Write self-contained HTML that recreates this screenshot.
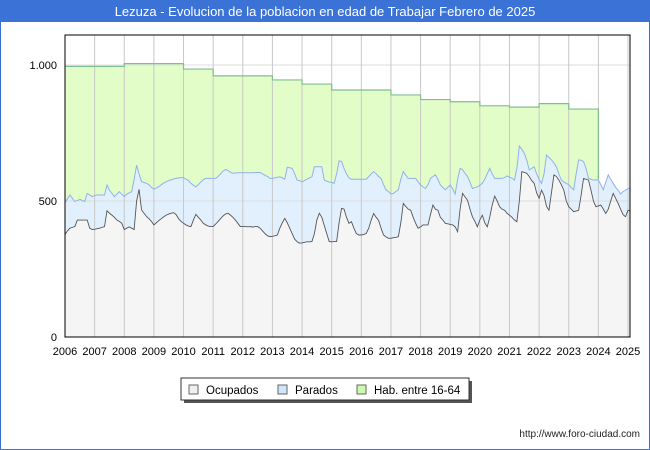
<!DOCTYPE html>
<html><head><meta charset="utf-8"><style>
body{margin:0;background:#fff;font-family:"Liberation Sans","DejaVu Sans",sans-serif}
#wrap{position:relative;width:650px;height:450px;box-sizing:border-box;border:1px solid #3a72d6;border-top:none}
</style></head><body>
<div id="wrap">
<svg id="c" width="650" height="450" style="position:absolute;left:-1px;top:0">
<rect x="0" y="0" width="650" height="22" fill="#3a72d6"/>
<text x="325" y="16" text-anchor="middle" fill="#fff" font-size="13" font-family="Liberation Sans, DejaVu Sans, sans-serif">Lezuza - Evolucion de la poblacion en edad de Trabajar Febrero de 2025</text>
<g id="plot"></g>
<g>
<rect x="184" y="381" width="288" height="22" fill="#555"/>
<rect x="181" y="378" width="288" height="22" fill="#fff" stroke="#333"/>
<g><rect x="189" y="385" width="9" height="9" fill="#f0f0f0" stroke="#666"/><text x="206" y="394" font-size="11.5">Ocupados</text></g>
<g><rect x="278" y="385" width="9" height="9" fill="#cfe6fb" stroke="#666"/><text x="295" y="394" font-size="11.5">Parados</text></g>
<g><rect x="357" y="385" width="9" height="9" fill="#ccfbaa" stroke="#666"/><text x="374" y="394" font-size="11.5">Hab. entre 16-64</text></g>
</g>
<text x="640" y="437" text-anchor="end" font-size="10" fill="#222">http://www.foro-ciudad.com</text>
</svg>
</div>
<script>
const yearLabels=["2006","2007","2008","2009","2010","2011","2012","2013","2014","2015","2016","2017","2018","2019","2020","2021","2022","2023","2024","2025"];
const yTicks=[0,500,1000];
const hab=[995,995,1005,1005,985,960,960,945,930,908,908,890,873,865,850,845,858,838];
const ocupados=[
377,390,400,403,406,430,430,430,430,430,400,395,
396,398,400,403,406,464,455,448,440,430,425,418,
395,400,405,400,395,500,543,467,455,443,435,425,
412,420,428,435,442,448,452,455,457,450,435,425,
418,412,408,406,430,451,440,430,418,412,408,406,
406,415,425,435,445,452,455,448,440,430,418,406,
406,406,405,406,404,406,406,400,390,380,372,369,
370,372,375,400,420,436,420,400,380,360,350,345,
346,348,350,350,351,380,430,455,440,410,380,351,
350,351,351,420,473,470,440,418,424,400,380,375,
375,377,381,400,430,454,440,429,400,375,368,363,
363,365,366,369,420,491,480,470,466,440,418,400,
405,412,412,412,450,485,470,466,440,430,418,416,
414,412,405,387,470,528,515,503,470,442,425,405,
430,448,420,405,440,485,518,500,479,470,466,455,
448,440,430,424,500,608,605,602,590,575,565,530,
510,540,520,480,466,530,596,590,577,560,540,500,
479,470,461,463,466,520,583,580,577,540,500,479,
482,485,470,454,470,500,528,510,491,470,450,442,
466,462];
const activos=[
494,508,522,510,498,502,506,502,498,528,522,516,
520,522,522,522,522,559,540,528,516,525,534,525,
516,525,530,534,580,632,600,571,568,565,560,550,
543,548,553,560,566,571,575,578,581,583,585,586,
586,580,575,565,558,552,560,570,578,583,583,583,
583,583,590,600,610,616,612,606,602,603,604,604,
604,604,604,604,604,605,605,605,600,595,590,583,
583,585,587,589,585,580,624,622,620,600,577,575,
571,575,580,585,589,626,626,626,626,577,573,570,
568,565,600,648,645,620,600,585,580,580,580,580,
580,580,580,590,600,608,600,590,583,560,541,535,
526,528,535,541,580,608,595,583,583,583,583,570,
559,552,546,560,583,590,596,580,559,550,541,550,
559,545,526,580,620,615,602,590,570,546,549,552,
558,565,580,600,620,600,583,583,583,583,586,592,
588,584,577,620,702,690,675,650,614,620,626,600,
580,565,600,669,660,651,640,626,600,577,570,565,
560,550,541,600,651,650,645,620,583,580,577,577,
577,560,541,570,596,580,565,550,540,526,535,540,
546,548];

const X0=65,X1=630,Y0=337,YT=35;
const yrW=(628-65)/19;
const xm=m=>X0+m/12*yrW;
const xy=y=>X0+y*yrW;
const yv=v=>Y0-v*0.272;
const NS="http://www.w3.org/2000/svg";
const plot=document.getElementById('plot');
function mk(t,a){const e=document.createElementNS(NS,t);for(const k in a)e.setAttribute(k,a[k]);plot.appendChild(e);return e;}
const n=ocupados.length, xe=xm(n-1);
let bg=mk('rect',{x:X0,y:YT,width:X1-X0,height:Y0-YT,fill:'#fff'});


// hab area
let hp='M'+xy(0)+','+Y0;
hab.forEach((v,i)=>{hp+=' L'+xy(i)+','+yv(v)+' L'+xy(i+1)+','+yv(v);});
let habLine=hp.replace('M'+xy(0)+','+Y0+' L','M');
hp+=' L'+xy(hab.length)+','+Y0+'Z';
let ha=mk('path',{d:hp,fill:'#e3fdc9'});


// activos area
let ap='M'+X0+','+Y0;activos.forEach((v,i)=>ap+=' L'+xm(i)+','+yv(v));ap+=' L'+xe+','+Y0+'Z';
let aa=mk('path',{d:ap,fill:'#e2f0fe'});


let op='M'+X0+','+Y0;ocupados.forEach((v,i)=>op+=' L'+xm(i)+','+yv(v));op+=' L'+xe+','+Y0+'Z';
let oa=mk('path',{d:op,fill:'#f5f5f5'});


// grid
yTicks.forEach(t=>{if(t>0){let g=mk('line',{x1:X0,x2:X1,y1:yv(t),y2:yv(t),stroke:'#ddd','stroke-width':1});

}
let l=mk('text',{x:57,y:yv(t)+4,'text-anchor':'end','font-size':11,fill:'#000'});l.textContent=t===1000?'1.000':String(t);

});
yearLabels.forEach((s,i)=>{if(i>0){let g=mk('line',{x1:xy(i),x2:xy(i),y1:YT,y2:Y0,stroke:'#c8c8c8','stroke-width':1});

}
let l=mk('text',{x:xy(i),y:355,'text-anchor':'middle','font-size':11,fill:'#000'});l.textContent=s;

});
// lines
let hl=mk('path',{d:habLine+' L'+xy(hab.length)+','+yv(activos[hab.length*12]),fill:'none',stroke:'#7fbf8f','stroke-width':1.2});


let al=mk('path',{d:'M'+activos.map((v,i)=>xm(i)+','+yv(v)).join(' L'),fill:'none',stroke:'#8fb2ec','stroke-width':1});


let ol=mk('path',{d:'M'+ocupados.map((v,i)=>xm(i)+','+yv(v)).join(' L'),fill:'none',stroke:'#555','stroke-width':0.9});


let fr=mk('rect',{x:X0,y:YT,width:X1-X0,height:Y0-YT,fill:'none',stroke:'#000','stroke-width':1});


</script>
</body></html>
